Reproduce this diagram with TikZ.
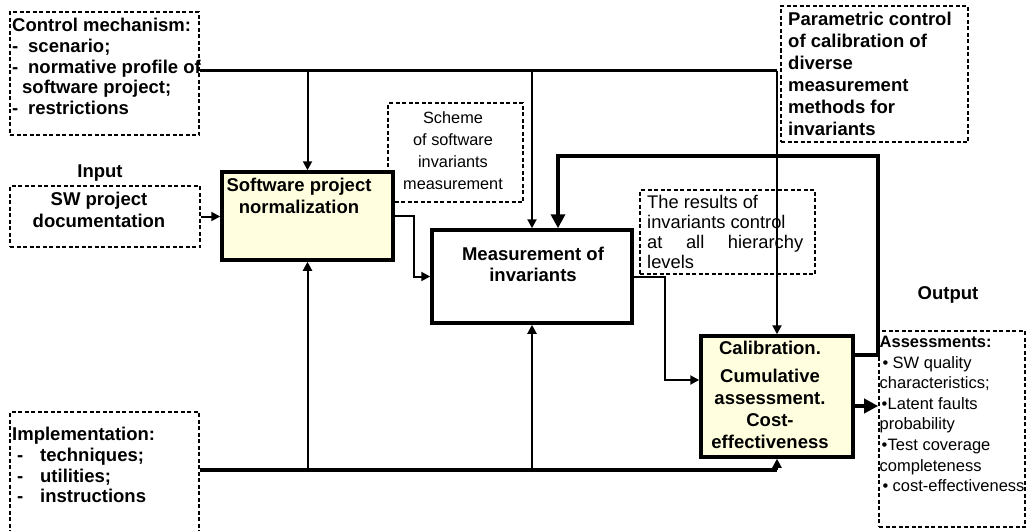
\documentclass[tikz,border=0pt]{standalone}
\usepackage{fontspec}
\setmainfont{Liberation Sans}
\usetikzlibrary{arrows.meta}
\definecolor{paleyellow}{RGB}{255,255,224}
\newcommand\dashitem[2]{\hspace*{#1}\makebox[16pt][l]{-}#2}
\newcommand\bulletitem[3]{\hspace*{#1}\makebox[#2][l]{\textbullet}#3}

\begin{document}
\begin{tikzpicture}[x=1pt,y=-1pt,
  dbox/.style={draw, dash pattern=on 4pt off 2.5pt, line width=1.6pt, inner sep=0pt},
  sbox/.style={draw, line width=3.5pt, inner sep=0pt},
  bold18/.style={inner sep=0pt, font=\fontsize{18.5}{#1}\selectfont\bfseries},
  reg/.style n args={2}{inner sep=0pt, font=\fontsize{#1}{#2}\selectfont},
  conn/.style={line width=2pt, -{Triangle[length=9pt,width=9pt]}},
  bigconn/.style={line width=3.6pt, -{Triangle[length=14pt,width=14pt]}},
  bus/.style={line width=3.3pt}]
\useasboundingbox (0,0) rectangle (1027,530);

% dashed annotation boxes
\node[dbox, minimum width=189pt, minimum height=123pt] (ctl) at (104.5,73.5) {};
\node[dbox, minimum width=190pt, minimum height=61pt] (doc) at (105,216.5) {};
\node[dbox, minimum width=135pt, minimum height=99pt] (scheme) at (455.5,152.5) {};
\node[dbox, minimum width=175pt, minimum height=84pt] (results) at (727.5,232) {};
\node[dbox, minimum width=187pt, minimum height=136pt] (param) at (874.5,74) {};
\node[dbox, minimum width=146pt, minimum height=196pt] (assess) at (952,429) {};
\node[dbox, minimum width=189pt, minimum height=128pt] (impl) at (104.5,476) {};

% process boxes
\node[sbox, fill=paleyellow, minimum width=171pt, minimum height=88pt] (norm) at (307.5,216) {};
\node[sbox, fill=white, minimum width=200pt, minimum height=93pt] (meas) at (532,276.5) {};
\node[sbox, fill=paleyellow, minimum width=152pt, minimum height=121pt] (calib) at (777,396.5) {};

% texts
\node[bold18=20.75pt, anchor=north west, align=left] (ctltxt) at (12,18)
  {Control mechanism:\\ \dashitem{0pt}{scenario;}\\ \dashitem{0pt}{normative profile of}\\
   \hspace*{10pt}software project;\\ \dashitem{0pt}{restrictions}};
\node[bold18=21pt, anchor=base] (inlbl) at (100,177) {Input};
\node[bold18=22pt, anchor=north, align=center] (doctxt) at (99,192) {SW project\\documentation};
\node[bold18=22pt, anchor=north, align=center] (normtxt) at (299,178) {Software project\\normalization};
\node[reg={16.3}{22}, anchor=north, align=center] (schemetxt) at (453,111.5)
  {Scheme\\of software\\invariants\\measurement};
\node[bold18=21pt, anchor=north, align=center] (meastxt) at (533,247) {Measurement of\\invariants};
\node[reg={18.3}{20}, anchor=north west, align=left] (restxt) at (647,195)
  {The results of\\invariants control\\\makebox[156pt][s]{at\hfill all\hfill hierarchy}\\levels};
\node[bold18=22pt, anchor=north west, align=left] (paramtxt) at (788,12)
  {Parametric control\\of calibration of\\diverse\\measurement\\methods for\\invariants};
\node[bold18=21pt, anchor=north] (caltxt) at (770,341) {Calibration.};
\node[bold18=22pt, anchor=north, align=center] (cumtxt) at (770,369)
  {Cumulative\\assessment.\\Cost-\\effectiveness};
\node[bold18=21pt, anchor=base] (outlbl) at (948,299) {Output};
\node[reg={16.5}{20.6}, anchor=north west, align=left] (assesstxt) at (879.5,336)
  {\textbf{Assessments:}\\ \bulletitem{3pt}{10pt}{SW quality}\\characteristics;\\
   \bulletitem{2pt}{6pt}{Latent faults}\\probability\\ \bulletitem{2pt}{6pt}{Test coverage}\\
   completeness\\ \bulletitem{3pt}{10pt}{cost-effectiveness}};
\node[bold18=20.75pt, anchor=north west, align=left] (impltxt) at (12,427)
  {Implementation:\\ \dashitem{5pt}{\hspace*{7pt}techniques;}\\ \dashitem{5pt}{\hspace*{7pt}utilities;}\\
   \dashitem{5pt}{\hspace*{7pt}instructions}};

% control bus from the top
\coordinate (tl) at ([yshift=3pt]ctl.east);
\draw[bus] (tl) -- (tl -| calib.north);
\draw[conn] (tl -| norm.north) -- (norm.north);
\draw[conn] (tl -| meas.north) -- (meas.north);
\draw[conn] (tl -| calib.north) -- (calib.north);

% input and process flow
\draw[conn] (doc.east) -- (doc.east -| norm.west);
\draw[conn] (norm.east) -- ++(19,0) |- (meas.west);
\draw[conn] (meas.east) -- ++(31,0) |- ([yshift=16.5pt]calib.west);
\draw[bigconn] ([yshift=-9.5pt]calib.east) -- ([yshift=-9.5pt]calib.east -| assess.west);

% feedback loop
\coordinate (fbtop) at (558,156);
\draw[bigconn] ([yshift=41.5pt]calib.east) -- ++(23,0) |- (fbtop) -- (fbtop |- meas.north);

% implementation bus from the bottom
\coordinate (bl) at ([yshift=6pt]impl.east);
\draw[bus] (bl) -- (bl -| calib.south);
\draw[conn] (bl -| norm.south) -- (norm.south);
\draw[conn] (bl -| meas.south) -- (meas.south);
\draw[conn] (bl -| calib.south) -- (calib.south);
\end{tikzpicture}
\end{document}
